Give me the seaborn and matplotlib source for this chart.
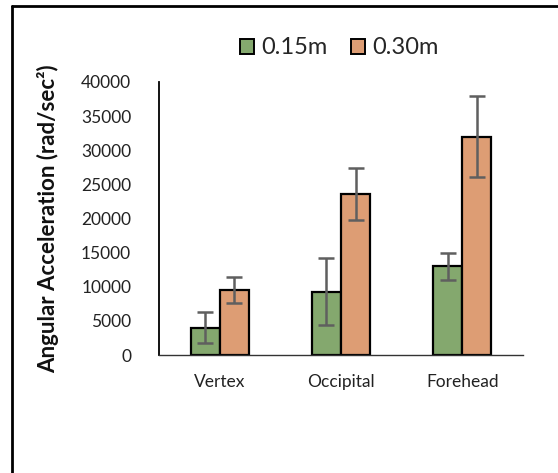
import matplotlib
matplotlib.use("Agg")
import matplotlib.pyplot as plt
import seaborn as sns
import pandas as pd
from matplotlib.lines import Line2D
from matplotlib.patches import Patch

categories = ["Vertex", "Occipital", "Forehead"]
series = ["0.15m", "0.30m"]
vals_015 = [4000, 9300, 13000]
vals_030 = [9500, 23600, 32000]
err_015 = [2300, 4900, 1950]
err_030 = [1900, 3750, 5900]
yticks = [0, 5000, 10000, 15000, 20000, 25000, 30000, 35000, 40000]
ylabel = "Angular Acceleration (rad/sec²)"
colors = ["#84A86E", "#DD9D74"]

sns.set_style("white")
plt.rcParams["font.family"] = ["Lato", "DejaVu Sans"]

df = pd.DataFrame({
    "cat": categories * 2,
    "series": [series[0]] * 3 + [series[1]] * 3,
    "val": vals_015 + vals_030,
    "err": err_015 + err_030,
})

W, H = 558, 473
fig = plt.figure(figsize=(W / 100, H / 100), dpi=100)
ax = fig.add_axes([159 / W, 1 - 355 / H, (523 - 159) / W, (355 - 82) / H])

sns.barplot(data=df, x="cat", y="val", hue="series", order=categories,
            hue_order=series, palette=colors, width=0.48, errorbar=None,
            edgecolor="black", linewidth=1.6, saturation=1, ax=ax, legend=False)

# error bars at the library-placed bar centres (bars ordered by hue, then category)
bars = [p for p in ax.patches if p.get_height() > 0]
all_err = err_015 + err_030
for p, e in zip(bars, all_err):
    cx = p.get_x() + p.get_width() / 2
    h = p.get_height()
    ax.errorbar(cx, h, yerr=e, fmt="none", ecolor="#5F5F5F", elinewidth=1.8,
                capsize=6, capthick=1.8, zorder=5)

ax.set_xlim(-0.5, 2.5)
ax.set_ylim(0, 40000)
ax.set_yticks(yticks)
ax.set_yticklabels([str(t) for t in yticks])
ax.tick_params(axis="y", length=0, pad=20, labelsize=12.5, labelcolor="#222222")
ax.tick_params(axis="x", length=0, pad=14, labelsize=12.5, labelcolor="#222222")
ax.set_xlabel("")
ax.set_ylabel(ylabel, fontsize=16, fontweight="bold", labelpad=16, color="#111111")

for s in ["top", "right"]:
    ax.spines[s].set_visible(False)
ax.spines["left"].set_color("black")
ax.spines["left"].set_linewidth(1.3)
ax.spines["bottom"].set_color("#333333")
ax.spines["bottom"].set_linewidth(1.0)

handles = [Patch(facecolor=c, edgecolor="black", linewidth=1.4) for c in colors]
fig.legend(handles, series, loc="center", bbox_to_anchor=(339 / W, 1 - 48 / H),
           ncol=2, frameon=False, fontsize=17, handlelength=0.6, handleheight=0.6,
           handletextpad=0.3, columnspacing=1.0)

# outer chart border (left and top visible)
fig.add_artist(Line2D([12 / W, 12 / W], [0, 1 - 6 / H], transform=fig.transFigure,
                      color="black", linewidth=2))
fig.add_artist(Line2D([12 / W, 1], [1 - 6 / H, 1 - 6 / H], transform=fig.transFigure,
                      color="black", linewidth=2))

fig.savefig("out.png", dpi=100)
